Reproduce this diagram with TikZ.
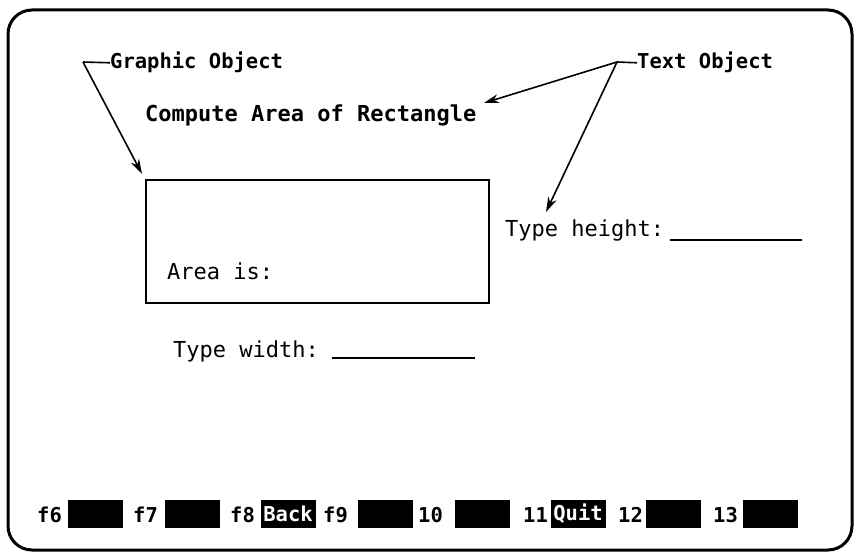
\documentclass[tikz,border=0pt]{standalone}
\usepackage{fontspec}
\setmonofont{DejaVu Sans Mono}
\usetikzlibrary{arrows.meta}
\begin{document}
\begin{tikzpicture}[x=1pt,y=-1pt,
  txt/.style={font=\ttfamily\fontsize{22}{22}\selectfont, inner sep=0pt, anchor=base west},
  lbl/.style={txt, font=\ttfamily\bfseries\fontsize{20.5}{21}\selectfont},
  ttl/.style={txt, font=\ttfamily\bfseries\fontsize{22}{22}\selectfont},
  keybox/.style={fill=black, text=white, inner sep=0pt, minimum width=55pt, minimum height=28pt,
    font=\ttfamily\bfseries\fontsize{20.5}{21}\selectfont},
  arr/.style={line width=1.6pt, -{Stealth[length=15pt,width=9pt]}},
  tick/.style={line width=1.6pt},
  uline/.style={line width=2pt}
]
\useasboundingbox (0,0) rectangle (855,553);
% outer frame
\draw[line width=3pt, rounded corners=24pt] (8,10) rectangle (852,550);

% texts
\node[lbl] (go) at (110,69) {Graphic Object};
\node[lbl] (to) at (637,69) {Text Object};
\node[ttl] (cr) at (145,122) {Compute Area of Rectangle};
\node[draw, line width=2pt, inner sep=0pt, minimum width=343pt, minimum height=123pt, anchor=north west] (gbox) at (145,179) {};
\node[txt] (ai) at (167,280) {Area is:};
\node[txt] (th) at (505,237) {Type height:};
\node[txt] (tw) at (173,358) {Type width:};
\coordinate (thu1) at (670,240); \coordinate (thu2) at (802,240);
\coordinate (twu1) at (332,358); \coordinate (twu2) at (475,358);
\draw[uline] (thu1) -- (thu2);
\draw[uline] (twu1) -- (twu2);

% connectors
\coordinate (gt) at (83,62);
\coordinate (gtip) at (142,174);
\draw[tick] (go.west) -- (gt);
\draw[arr] (gt) -- (gtip);
\coordinate (tt) at (617,62);
\coordinate (ctip) at (484,103);
\coordinate (htip) at (546,212);
\draw[tick] (to.west) -- (tt);
\draw[arr] (tt) -- (ctip);
\draw[arr] (tt) -- (htip);

% function keys
\node[lbl] (f6) at (37,522) {f6};
\node[keybox] (k6) at (95,514) {};
\node[lbl] (f7) at (133,522) {f7};
\node[keybox] (k7) at (192.5,514) {};
\node[lbl] (f8) at (230,522) {f8};
\node[keybox] (k8) at (288,514) {Back};
\node[lbl] (f9) at (323,522) {f9};
\node[keybox] (k9) at (385,514) {};
\node[lbl] (f10) at (418,522) {10};
\node[keybox] (k10) at (482.5,514) {};
\node[lbl] (f11) at (523,522) {11};
\node[keybox] (k11) at (578,514) {Quit};
\node[lbl] (f12) at (618,522) {12};
\node[keybox] (k12) at (673,514) {};
\node[lbl] (f13) at (713,522) {13};
\node[keybox] (k13) at (770.5,514) {};
\end{tikzpicture}
\end{document}
